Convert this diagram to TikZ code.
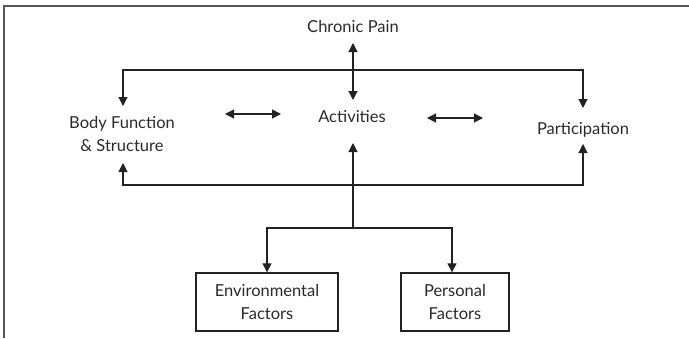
\documentclass[tikz,border=0pt]{standalone}
\usepackage{fontspec}
\setmainfont{Lato}
\usetikzlibrary{arrows.meta}
\definecolor{framegray}{HTML}{555555}
\definecolor{ink}{HTML}{222222}
\definecolor{txt}{HTML}{2a2a2a}
\tikzset{
  label text/.style={text=txt, font=\fontsize{16.5}{23}\selectfont, inner sep=0pt, align=center},
  factorbox/.style={label text, draw=ink, line width=1.3pt, minimum height=58pt},
  link/.style={draw=ink, line width=1.1pt},
  >={Triangle[length=9pt,width=9pt]}
}
\begin{document}
\begin{tikzpicture}[x=1pt,y=-1pt]
\useasboundingbox (0,0) rectangle (689,338);
% open frame: top and left edges only
\draw[framegray, line width=2pt] (4,338) -- (4,6) -- (689,6);

% labels
\node[label text] (pain) at (353,26) {Chronic Pain};
\node[label text] (act)  at (352,117) {Activities};
\node[label text] (body) at (122,134) {Body Function\\\& Structure};
\node[label text] (part) at (583,130) {Participation};
\node[factorbox, minimum width=142pt] (env)  at (267,302) {Environmental\\Factors};
\node[factorbox, minimum width=108pt] (pers) at (455,302) {Personal\\Factors};

% junction points
\coordinate (painTip) at (353,43);
\coordinate (topBus)  at (353,70);
\coordinate (painLow) at (353,100);
\coordinate (bodyTop) at (123,106);
\coordinate (partTop) at (583,108);
\coordinate (bodyLow) at (123,163);
\coordinate (partLow) at (583,144);
\coordinate (actLow)  at (353,143);
\coordinate (botBus)  at (353,185);
\coordinate (hub)     at (353,228);
\coordinate (bfL) at (225,114); \coordinate (bfR) at (281,114);
\coordinate (paL) at (427,118); \coordinate (paR) at (483,118);

% connectors
\draw[link,<->] (painTip) -- (painLow);
\draw[link,<->] (bodyTop) -- (bodyTop |- topBus) -- (partTop |- topBus) -- (partTop);
\draw[link,<->] (bodyLow) -- (bodyLow |- botBus) -- (partLow |- botBus) -- (partLow);
\draw[link,<->] (bfL) -- (bfR);
\draw[link,<->] (paL) -- (paR);
\draw[link,->] (hub) -- (actLow);
\draw[link,<->] (env.north) -- (env.north |- hub) -- ([xshift=-3pt]pers.north |- hub) -- ([xshift=-3pt]pers.north);
\end{tikzpicture}
\end{document}
